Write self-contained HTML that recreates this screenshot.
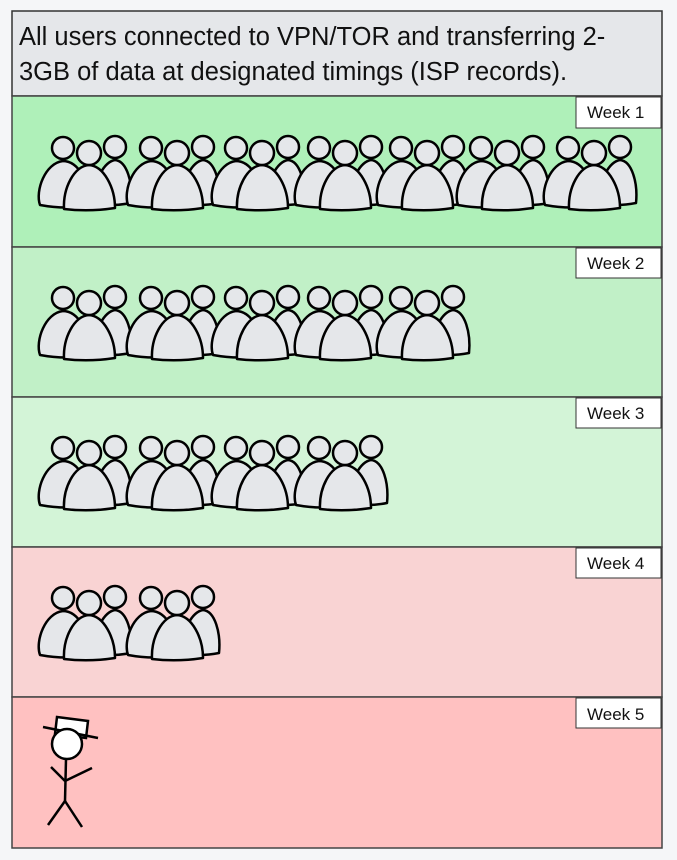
<!DOCTYPE html>
<html><head><meta charset="utf-8"><style>
body{margin:0;background:#f5f6f8;font-family:"Liberation Sans",sans-serif;}
svg{display:block}
</style></head><body>
<svg width="677" height="860" viewBox="0 0 677 860" xmlns="http://www.w3.org/2000/svg">
<defs>
<g id="grp" stroke="#000" stroke-width="2.5" fill="#e5e7ea" stroke-linejoin="round">
  <path d="M-49 52 C-54 38 -44 10 -26 8 C-10 8 0 30 3 52 Q-22 57 -49 52 Z"/>
  <circle cx="-26" cy="-5" r="11"/>
  <path d="M2 50 C6 28 14 9 26 7 C38 8 44 30 42 50 Q22 54 2 50 Z"/>
  <circle cx="26" cy="-6" r="11"/>
  <path d="M-25 56 C-26 35 -15 13 0 12 C15 13 26 35 26 55 Q0 59 -25 56 Z"/>
  <circle cx="0" cy="0" r="12"/>
</g>
</defs>
<rect x="12" y="11" width="650" height="85" fill="#e5e7ea" stroke="#333" stroke-width="1.5"/>
<text x="19" y="45" font-size="25.5" fill="#111">All users connected to VPN/TOR and transferring 2-</text>
<text x="19" y="80" font-size="25.5" fill="#111">3GB of data at designated timings (ISP records).</text>
<rect x="12" y="96" width="650" height="151" fill="#aff0b9" stroke="#444" stroke-width="1.5"/>
<rect x="12" y="247" width="650" height="150" fill="#c1f0c7" stroke="#444" stroke-width="1.5"/>
<rect x="12" y="397" width="650" height="150" fill="#d3f4d7" stroke="#444" stroke-width="1.5"/>
<rect x="12" y="547" width="650" height="150" fill="#f9d3d3" stroke="#444" stroke-width="1.5"/>
<rect x="12" y="697" width="650" height="151" fill="#ffc1c1" stroke="#444" stroke-width="1.5"/>
<g font-size="17" fill="#111">
<rect x="576" y="97" width="85" height="31" fill="#fff" stroke="#333"/><text x="587" y="118">Week 1</text>
<rect x="576" y="248" width="85" height="30" fill="#fff" stroke="#333"/><text x="587" y="269">Week 2</text>
<rect x="576" y="398" width="85" height="30" fill="#fff" stroke="#333"/><text x="587" y="419">Week 3</text>
<rect x="576" y="548" width="85" height="30" fill="#fff" stroke="#333"/><text x="587" y="569">Week 4</text>
<rect x="576" y="698" width="85" height="30" fill="#fff" stroke="#333"/><text x="587" y="720">Week 5</text>
</g>
<use href="#grp" x="89" y="153"/><use href="#grp" x="177" y="153"/><use href="#grp" x="262" y="153"/><use href="#grp" x="345" y="153"/><use href="#grp" x="427" y="153"/><use href="#grp" x="507" y="153"/><use href="#grp" x="594" y="153"/>
<use href="#grp" x="89" y="303"/><use href="#grp" x="177" y="303"/><use href="#grp" x="262" y="303"/><use href="#grp" x="345" y="303"/><use href="#grp" x="427" y="303"/>
<use href="#grp" x="89" y="453"/><use href="#grp" x="177" y="453"/><use href="#grp" x="262" y="453"/><use href="#grp" x="345" y="453"/>
<use href="#grp" x="89" y="603"/><use href="#grp" x="177" y="603"/>
<g stroke="#000" stroke-width="2.5" fill="none">
  <polygon points="57,717 88,721 86,738 55,734" fill="#fff"/>
  <line x1="43" y1="727" x2="98" y2="738"/>
  <circle cx="67" cy="744" r="15" fill="#fff"/>
  <line x1="66" y1="759" x2="65" y2="801"/>
  <line x1="51" y1="767" x2="65" y2="781"/>
  <line x1="65" y1="781" x2="92" y2="768"/>
  <line x1="65" y1="801" x2="48" y2="825"/>
  <line x1="65" y1="801" x2="82" y2="827"/>
</g>
</svg>
</body></html>
